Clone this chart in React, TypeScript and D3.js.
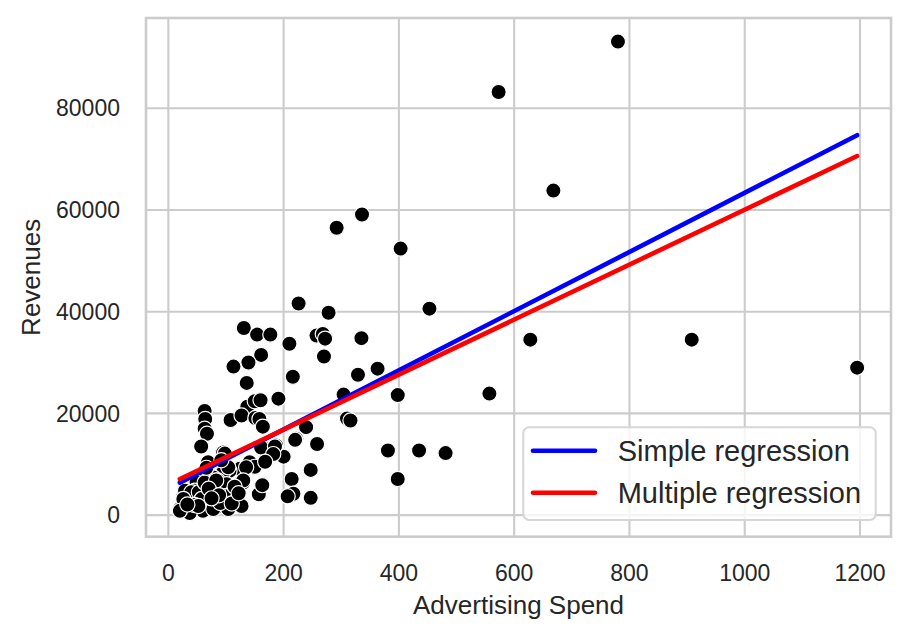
import React from "react";
import * as d3 from "d3";

// advertising spend vs revenues
const spend = [
  780, 573, 668, 336, 292, 403, 226, 453, 278, 131, 154, 177, 257, 268, 272, 335,
  628, 908, 210, 161, 270, 113, 139, 1195, 363, 329, 216, 136, 557, 191, 304, 398,
  137, 150, 160, 63, 64, 63, 67, 57, 108, 127, 151, 158, 310, 316, 164, 239,
  222, 258, 187, 176, 161, 200, 381, 435, 481, 398, 247, 214, 217, 207, 247, 157,
  163, 144, 141, 95, 98, 69, 124, 106, 95, 78, 60, 49, 86, 101, 130, 26,
  37, 55, 63, 72, 101, 112, 118, 20, 37, 60, 83, 104, 127, 29, 46, 78,
  40, 53, 63, 83, 104, 78, 26, 58, 37, 20, 185, 220, 182, 150, 168, 135,
  130, 45, 70, 90, 115, 88, 52, 33, 75, 110, 122, 66, 92,
];
const revenues = [
  93100, 83200, 63800, 59100, 56500, 52400, 41600, 40600, 39800, 36800, 35500, 35500, 35300, 35600, 34700, 34800,
  34500, 34500, 33700, 31500, 31200, 29200, 30000, 29000, 28800, 27600, 27200, 26000, 23900, 22900, 23700, 23600,
  21300, 22400, 22600, 20500, 18900, 17000, 16000, 13500, 18700, 19600, 19100, 18900, 19000, 18600, 17400, 17300,
  15000, 14000, 13700, 13000, 13300, 11500, 12700, 12700, 12200, 7100, 8900, 7100, 4200, 3700, 3400, 4100,
  5900, 10000, 10400, 12300, 12100, 10400, 9100, 8700, 8400, 7400, 7100, 6400, 6800, 6100, 6400, 3800,
  2800, 3200, 3800, 2800, 3800, 4500, 2800, 1200, 850, 850, 1500, 1200, 1800, 4800, 4800, 4800,
  4500, 4500, 6400, 6800, 9400, 1200, 3200, 3200, 400, 850, 13500, 14800, 12000, 9500, 10500, 9400,
  6800, 2000, 5200, 2400, 5600, 3900, 1800, 2100, 3300, 2300, 4300, 9300, 10800,
];

// fitted lines, evaluated at the smallest and largest spend
const fitSpend = [20, 1195];
const simpleFit = [6400, 74700];
const multipleFit = [7100, 70600];

const xTicks = [0, 200, 400, 600, 800, 1000, 1200];
const yTicks = [0, 20000, 40000, 60000, 80000];

const legendItems = ["Simple regression", "Multiple regression"];
const legendColors = ["#0000ff", "#ff0000"];

const W = 909;
const H = 638;
const box = { left: 146, right: 891, top: 18, bottom: 536.7 };
const font = "'Liberation Sans', Arial, sans-serif";
const ink = "#262626";

function padded(lo: number, hi: number): [number, number] {
  const m = (hi - lo) * 0.05;
  return [lo - m, hi + m];
}

export default function App() {
  const points = spend.map((s, i) => ({ x: s, y: revenues[i] }));

  const x = d3
    .scaleLinear()
    .domain(padded(d3.min(spend)!, d3.max(spend)!))
    .range([box.left, box.right]);
  const y = d3
    .scaleLinear()
    .domain(padded(d3.min(revenues)!, d3.max(revenues)!))
    .range([box.bottom, box.top]);

  const line = d3
    .line<number>()
    .x((_, i) => x(fitSpend[i]))
    .y((d) => y(d));

  const legend = { x: 523.3, y: 427.3, w: 352.4, h: 92.7 };

  return (
    <svg
      width={W}
      height={H}
      style={{ position: "absolute", left: 0, top: 0, background: "#fff" }}
      fontFamily={font}
    >
      <rect x={0} y={0} width={W} height={H} fill="#fff" />

      {/* grid */}
      {xTicks.map((t) => (
        <line key={"gx" + t} x1={x(t)} x2={x(t)} y1={box.top} y2={box.bottom} stroke="#cccccc" strokeWidth={2.1} />
      ))}
      {yTicks.map((t) => (
        <line key={"gy" + t} x1={box.left} x2={box.right} y1={y(t)} y2={y(t)} stroke="#cccccc" strokeWidth={2.1} />
      ))}

      {/* points */}
      {points.map((p, i) => (
        <circle key={i} cx={x(p.x)} cy={y(p.y)} r={7.6} fill="#000" stroke="#fff" strokeWidth={1.2} />
      ))}

      {/* regression lines */}
      <path d={line(simpleFit)!} fill="none" stroke={legendColors[0]} strokeWidth={4.6} strokeLinecap="round" />
      <path d={line(multipleFit)!} fill="none" stroke={legendColors[1]} strokeWidth={4.6} strokeLinecap="round" />

      {/* frame */}
      <rect
        x={box.left}
        y={box.top}
        width={box.right - box.left}
        height={box.bottom - box.top}
        fill="none"
        stroke="#cccccc"
        strokeWidth={2.6}
      />

      {/* tick labels */}
      {xTicks.map((t) => (
        <text key={"tx" + t} x={x(t)} y={581} textAnchor="middle" fontSize={23} fill={ink}>
          {t}
        </text>
      ))}
      {yTicks.map((t) => (
        <text key={"ty" + t} x={120} y={y(t)} dy="0.36em" textAnchor="end" fontSize={23} fill={ink}>
          {t}
        </text>
      ))}

      {/* axis labels */}
      <text x={(box.left + box.right) / 2} y={614} textAnchor="middle" fontSize={26} fill={ink}>
        Advertising Spend
      </text>
      <text
        transform={`translate(39.5,${(box.top + box.bottom) / 2}) rotate(-90)`}
        textAnchor="middle"
        fontSize={26}
        fill={ink}
      >
        Revenues
      </text>

      {/* legend */}
      <rect
        x={legend.x}
        y={legend.y}
        width={legend.w}
        height={legend.h}
        rx={6}
        fill="#fff"
        fillOpacity={0.8}
        stroke="#d6d6d6"
        strokeWidth={2}
      />
      {legendItems.map((label, i) => {
        const cy = 450.7 + i * 42;
        return (
          <g key={label}>
            <line x1={533} x2={595} y1={cy} y2={cy} stroke={legendColors[i]} strokeWidth={4.6} strokeLinecap="round" />
            <text x={617.7} y={cy} dy="0.36em" fontSize={29} fill={ink}>
              {label}
            </text>
          </g>
        );
      })}
    </svg>
  );
}
